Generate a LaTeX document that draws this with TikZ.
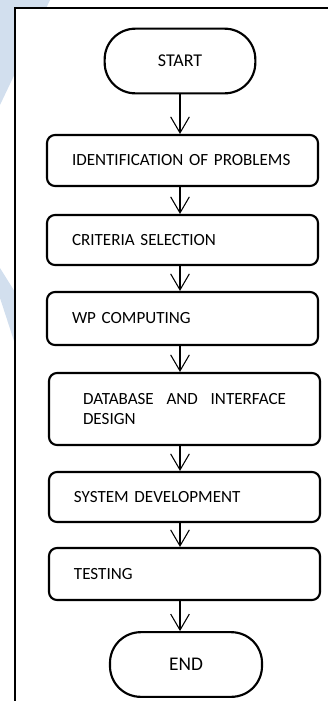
\documentclass[tikz,border=0pt]{standalone}
\usepackage{fontspec}
\setmainfont{Carlito}
\usetikzlibrary{calc,arrows.meta}
\usepackage{xcolor}
\definecolor{wmblue}{HTML}{D2DFEE}

\begin{document}
\begin{tikzpicture}[x=0.75pt,y=-0.75pt,
	stepbox/.style={draw, line width=1.6pt, rounded corners=6pt, align=left, inner xsep=18.75pt, text width=165.75pt, font=\fontsize{12.8}{15.6}\selectfont},
	termbox/.style={draw, line width=1.6pt, rounded corners=23pt, minimum width=113pt, minimum height=48.5pt, font=\fontsize{13.5}{16}\selectfont},
	flow/.style={line width=0.8pt, -{Straight Barb[length=12pt,width=14pt,line width=0.8pt]}}]
			\useasboundingbox (0,0) rectangle (328,701);
			% watermark and frame
			\fill[wmblue] (0,0) -- (50,0) -- (0,105) -- cycle;
			\fill[wmblue] (0,268) -- (15,292) -- (15,344) -- (0,298) -- cycle;
			\fill[white] (15,7.5) rectangle (328,701);
			\draw[line width=1.5pt] (15,701) -- (15,7.5) -- (328,7.5);
			% steps
			\node[termbox] (start) at (180,61) {START};
			\node[stepbox, minimum height=38.25pt] (ident) at (182.5,160.5) {IDENTIFICATION OF PROBLEMS};
			\node[stepbox, minimum height=37.5pt] (crit) at (182.5,240) {CRITERIA SELECTION};
			\node[stepbox, minimum height=39.75pt] (wp) at (182.5,318.5) {WP COMPUTING};
			\node[stepbox, minimum height=54pt, inner xsep=25.5pt, text width=152.25pt] (dbdesign) at (184.5,409) {DATABASE\hfill AND\hfill INTERFACE\\DESIGN};
			\node[stepbox, minimum height=37.5pt] (sysdev) at (184.5,497) {SYSTEM DEVELOPMENT};
			\node[stepbox, minimum height=39pt] (testing) at (184.5,574) {TESTING};
			\node[termbox, minimum width=114pt, font=\fontsize{14.5}{17}\selectfont] (finish) at (186,664.5) {END};
			% arrows
			\draw[flow] (start.south) -- (start.south |- ident.north);
			\draw[flow] (start.south |- ident.south) -- (start.south |- crit.north);
			\draw[flow] (start.south |- crit.south) -- (start.south |- wp.north);
			\draw[flow] (start.south |- wp.south) -- (start.south |- dbdesign.north);
			\draw[flow] (start.south |- dbdesign.south) -- (start.south |- sysdev.north);
			\draw[flow] (start.south |- sysdev.south) -- (start.south |- testing.north);
			\draw[flow] (start.south |- testing.south) -- (start.south |- finish.north);
\end{tikzpicture}
\end{document}
